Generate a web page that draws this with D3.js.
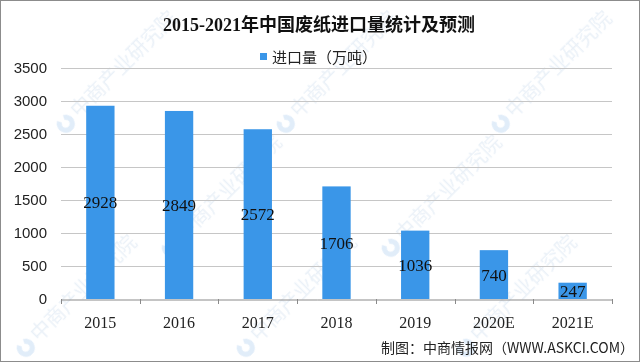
<!DOCTYPE html>
<html><head><meta charset="utf-8">
<script src="https://cdn.jsdelivr.net/npm/d3@7"></script>
<style>body{margin:0;background:#fff}svg{display:block}</style>
</head><body>
<script>
const categories = ["2015","2016","2017","2018","2019","2020E","2021E"];
const values = [2928,2849,2572,1706,1036,740,247];
const yTicks = [0,500,1000,1500,2000,2500,3000,3500];
const titleText = "2015-2021年中国废纸进口量统计及预测";
const legendText = "进口量（万吨）";
const sourceText = "制图：中商情报网（WWW.ASKCI.COM）";
const watermarkText = "中商产业研究院";

const W = 640, H = 362;
const svg = d3.select("body").append("svg").attr("width", W).attr("height", H);
svg.append("rect").attr("x",0.5).attr("y",0.5).attr("width",W-1).attr("height",H-1)
  .attr("fill","#fff").attr("stroke","#8c8c8c");

const x = d3.scaleBand().domain(categories).range([61, 612]).padding(0);
const y = d3.scaleLinear().domain([0, 3500]).range([299, 68]);
const barW = x.step() * 0.36;
const blue = "#3a96e8";

// watermarks
const wm = svg.append("g").attr("opacity", 0.3);
const wmPos = [[70,128],[290,128],[505,128],[175,252],[395,252],[30,352],[250,352],[470,352]];
wmPos.forEach(([px,py]) => {
  const g = wm.append("g").attr("transform", `translate(${px},${py}) rotate(-45)`);
  g.append("path").attr("d", d3.arc()({innerRadius:4, outerRadius:9, startAngle:Math.PI*0.15, endAngle:Math.PI*1.85}))
    .attr("transform","translate(0,-6)").attr("fill","#9cc3ec");
  g.append("text").attr("x", 13).attr("y", 0).attr("font-family","Noto Sans CJK SC")
    .attr("font-size", 20).attr("fill", "#b9cfe6").text(watermarkText);
});

// gridlines
svg.append("g").selectAll("line").data(yTicks.filter(d=>d>0)).join("line")
  .attr("x1", 61).attr("x2", 612).attr("y1", d=>y(d)+0.5).attr("y2", d=>y(d)+0.5)
  .attr("stroke", "#c6c6c6").attr("stroke-width", 1);

// y axis labels
const yAxis = svg.append("g").attr("transform", "translate(47,0)")
  .call(d3.axisLeft(y).tickValues(yTicks).tickFormat(d3.format("d")).tickSize(0).tickPadding(0));
yAxis.select(".domain").remove();
yAxis.selectAll("text").attr("font-family","Liberation Sans, Arial, sans-serif")
  .attr("font-size", 15).attr("fill", "#222");

// bars
svg.append("g").selectAll("rect").data(values).join("rect")
  .attr("x", (d,i)=> x(categories[i]) + (x.step()-barW)/2)
  .attr("y", d=>y(d)).attr("width", barW).attr("height", d=>y(0)-y(d))
  .attr("fill", blue);

// x axis
const xAxis = svg.append("g").attr("transform", `translate(0,${y(0)+0.5})`)
  .call(d3.axisBottom(x).tickSize(0).tickPadding(17));
xAxis.select(".domain").attr("stroke", "#8a8a8a");
xAxis.selectAll("text").attr("font-family","Liberation Serif, Times New Roman, serif")
  .attr("font-size", 16).attr("fill", "#222");
const bounds = categories.map(c=>x(c)).concat([x.range()[1]]);
svg.append("g").selectAll("line").data(bounds).join("line")
  .attr("x1", d=>Math.round(d)+0.5).attr("x2", d=>Math.round(d)+0.5)
  .attr("y1", y(0)).attr("y2", y(0)+5).attr("stroke","#8a8a8a");

// data labels
svg.append("g").selectAll("text").data(values).join("text")
  .attr("x", (d,i)=> x(categories[i]) + x.step()/2)
  .attr("y", d=> (y(d)+y(0))/2)
  .attr("dy", "0.36em").attr("text-anchor","middle")
  .attr("font-family","Liberation Serif, Times New Roman, serif")
  .attr("font-size", 17).attr("fill","#111").text(d=>d);

// title
svg.append("text").attr("x", 319).attr("y", 31).attr("text-anchor","middle")
  .attr("font-family","Liberation Serif, Noto Sans CJK SC, serif").attr("font-weight","bold")
  .attr("font-size", 18).attr("fill","#111").text(titleText);

// legend
svg.append("rect").attr("x", 260).attr("y", 53).attr("width", 7).attr("height", 7).attr("fill", blue);
svg.append("text").attr("x", 272).attr("y", 63)
  .attr("font-family","Noto Sans CJK SC, sans-serif").attr("font-size", 15).attr("fill","#222")
  .text(legendText);

// source
svg.append("text").attr("x", 634).attr("y", 353).attr("text-anchor","end")
  .attr("font-family","Noto Sans CJK SC, sans-serif").attr("font-size", 14).attr("fill","#222")
  .text(sourceText);
</script>
</body></html>
